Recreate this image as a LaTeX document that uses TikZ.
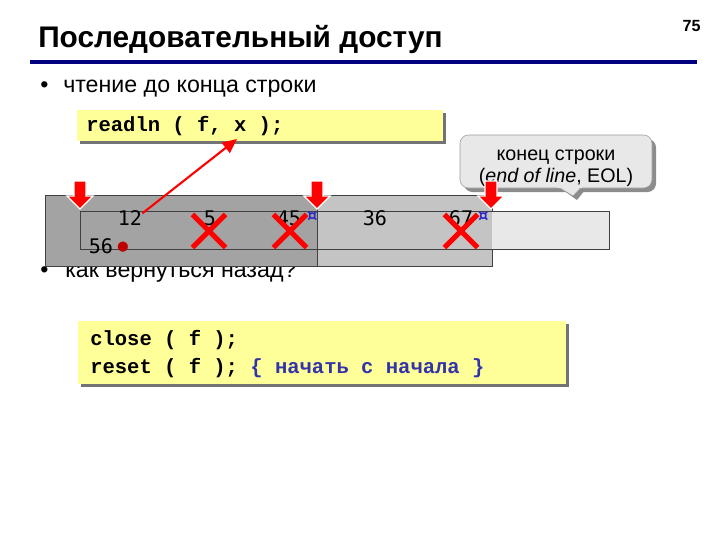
\documentclass[tikz,border=0pt]{standalone}
\usepackage{fontspec}
\setmainfont{Liberation Sans}
\newfontfamily\codefont{Liberation Mono}
\newfontfamily\cellfont{DejaVu Sans Mono}
\usetikzlibrary{arrows.meta,shapes.misc}
\definecolor{navyline}{RGB}{0,0,128}
\definecolor{codeyellow}{RGB}{255,255,153}
\definecolor{commentblue}{RGB}{51,51,170}
\definecolor{darkcell}{RGB}{163,163,163}
\definecolor{midcell}{RGB}{196,196,196}
\definecolor{lightcell}{RGB}{232,232,232}
\definecolor{eolblue}{RGB}{40,40,200}
\definecolor{eofred}{RGB}{190,0,0}
\tikzstyle{bullettext}=[anchor=base west, inner sep=0pt,
    font=\fontsize{16.5}{19}\selectfont]
\tikzstyle{codetext}=[anchor=base west, inner sep=0pt,
    font=\codefont\bfseries\fontsize{14.6}{17}\selectfont]
\tikzstyle{celltext}=[anchor=base, inner sep=0pt,
    font=\cellfont\fontsize{14.3}{16}\selectfont]
\tikzstyle{marktext}=[anchor=center, inner sep=0pt,
    font=\cellfont\bfseries\fontsize{14.5}{16}\selectfont]
\tikzstyle{codebox}=[fill=codeyellow]
\tikzstyle{boxshadow}=[fill=black!55]
\tikzstyle{downarrow}=[fill=red, draw=white, line width=0.8pt, line join=miter]
\tikzstyle{wrongmark}=[cross out, draw=red, line width=3.6pt,
    minimum size=7mm, inner sep=0pt]

\begin{document}
\begin{tikzpicture}[x=0.25mm, y=-0.25mm]
    \useasboundingbox (0,0) rectangle (720,540);
    % title
    \node[anchor=base west, inner sep=0pt, font=\bfseries\fontsize{21.2}{24}\selectfont]
        (title) at (38,47) {Последовательный доступ};
    \node[anchor=base east, inner sep=0pt, font=\bfseries\fontsize{11.5}{13}\selectfont]
        (page) at (701,31) {75};
    \draw[navyline, line width=2.2pt] (30,62) -- (697,62);
    \node[bullettext] (dot1) at (40,92) {•};
    \node[bullettext] (item1) at (63,92) {чтение до конца строки};
    \node[bullettext] (dot2) at (40,277) {•};
    \node[bullettext] (item2) at (65,277) {как вернуться назад?};
    % readln
    \fill[boxshadow] (80,113) rectangle (446,144);
    \fill[codebox] (77,110) rectangle (443,141);
    \node[codetext] (readln) at (86,131) {readln ( f, x );};
    \coordinate (xvar) at (237,139);
    % callout
    \fill[black!45, rounded corners=6pt] (464,139) rectangle (656,192);
    \fill[black!45] (563,190) -- (585,190) -- (577,200) -- cycle;
    \filldraw[fill=lightcell, draw=black!40, rounded corners=6pt] (460,135) rectangle (652,188);
    \filldraw[fill=lightcell, draw=black!40] (559,187.5) -- (581,187.5) -- (573,196) -- cycle;
    \fill[lightcell] (558,185) rectangle (582,187.8);
    \node[anchor=base, inner sep=0pt, font=\fontsize{14}{16}\selectfont]
        (eol1) at (556,160) {конец строки};
    \node[anchor=base, inner sep=0pt, font=\fontsize{14}{16}\selectfont]
        (eol2) at (556,182) {(\textit{end of line}, EOL)};
    % file contents
    \filldraw[fill=darkcell, draw=black!75] (45,195) rectangle (317,266);
    \filldraw[fill=midcell, draw=black!75] (317,195) rectangle (492,266);
    \fill[lightcell] (492,211) rectangle (609,249);
    \draw[black!75] (80,211) rectangle (609,249);
    \node[celltext] (n12) at (130,225) {12};
    \node[celltext] (n5) at (210,225) {5};
    \node[celltext] (n45) at (289,225) {45};
    \node[marktext, eolblue] (eol45) at (312,217) {¤};
    \node[celltext] (n36) at (375,225) {36};
    \node[celltext] (n67) at (461,225) {67};
    \node[marktext, eolblue] (eol67) at (483,217) {¤};
    \node[celltext] (n56) at (101,253) {56};
    \node[marktext, eofred, font=\cellfont\fontsize{12}{14}\selectfont] (eof) at (123,247) {●};
    % pointers
    \filldraw[downarrow] (74,181) -- ++(12,0) -- ++(0,15) -- ++(7,0) -- ++(-13,13)
        -- ++(-13,-13) -- ++(7,0) -- cycle;
    \filldraw[downarrow] (311,181) -- ++(12,0) -- ++(0,15) -- ++(7,0) -- ++(-13,13)
        -- ++(-13,-13) -- ++(7,0) -- cycle;
    \filldraw[downarrow] (485,181) -- ++(12,0) -- ++(0,15) -- ++(7,0) -- ++(-13,13)
        -- ++(-13,-13) -- ++(7,0) -- cycle;
    \node[wrongmark] (skip5) at (209,231) {};
    \node[wrongmark] (skip45) at (290,231) {};
    \node[wrongmark] (skip67) at (461,231) {};
    \draw[red, line width=1.5pt, -{Triangle[length=3.6mm, width=3.2mm]}]
        ([yshift=3pt]n12.east) -- (xvar);
    % close / reset
    \fill[boxshadow] (81,324) rectangle (569,387);
    \fill[codebox] (78,321) rectangle (566,384);
    \node[codetext] (close) at (90,345) {close ( f );};
    \node[codetext] (reset) at (90,373) {reset ( f ); \textcolor{commentblue}{\{ начать с начала \}}};
\end{tikzpicture}
\end{document}
